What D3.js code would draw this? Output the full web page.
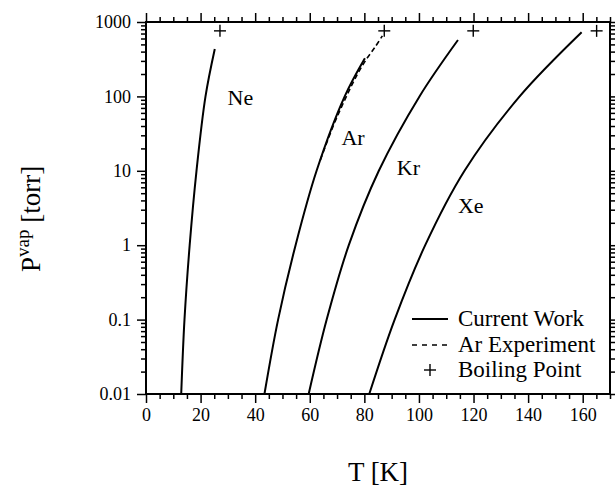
<!DOCTYPE html>
<html>
<head>
<meta charset="utf-8">
<script src="https://cdn.jsdelivr.net/npm/d3@7"></script>
<style>
  body { margin: 0; background: #fff; }
  svg { display: block; }
  text { font-family: "Liberation Serif", "DejaVu Serif", serif; fill: #000; }
</style>
</head>
<body>
<script>
// vapour pressure curves (T in K, P in torr)
var neT = [12.9, 14.1, 16.0, 18.5, 21.8, 25.2];
var neP = [0.01, 0.1, 1, 10, 100, 434];

var arT = [43.4, 48.4, 54.8, 62.5, 72.8, 80.2];
var arP = [0.01, 0.1, 1, 10, 100, 325];

var krT = [59.6, 66.2, 74.3, 85.3, 100.2, 114.3];
var krP = [0.01, 0.1, 1, 10, 100, 573];

var xeT = [81.8, 91.1, 102.3, 116.7, 136.9, 159.6];
var xeP = [0.01, 0.1, 1, 10, 100, 728];

// argon experiment (dashed)
var arExpT = [63.9, 68.6, 73.3, 77.5, 80.6, 83.9, 86.6];
var arExpP = [14, 40, 98, 200, 310, 460, 650];

// boiling points at 1 atm
var bpNames = ["Ne", "Ar", "Kr", "Xe"];
var bpT = [27.1, 87.3, 119.9, 165.1];
var bpP = [760, 760, 760, 760];

var xTicks = [0, 20, 40, 60, 80, 100, 120, 140, 160];
var yTicks = [0.01, 0.1, 1, 10, 100, 1000];
var legendLabels = ["Current Work", "Ar Experiment", "Boiling Point"];

var width = 615, height = 493;
var serif = "'Liberation Serif', 'DejaVu Serif', serif";

var svg = d3.select("body").append("svg")
    .attr("width", width)
    .attr("height", height);

var x = d3.scaleLinear().domain([0, 170]).range([146, 610]);
var y = d3.scaleLog().domain([0.01, 1000]).range([394, 22]);

// minor ticks
var xMinor = d3.range(0, 171, 5).filter(function(d) { return d % 20 != 0; });
var yMinor = [];
yTicks.slice(0, -1).forEach(function(d) {
    for (var k = 2; k <= 9; k++) yMinor.push(d * k);
});

function styleAxis(g) {
    g.attr("font-family", serif).attr("font-size", 18);
    g.select(".domain").remove();
    g.selectAll(".tick line").attr("stroke", "#000").attr("stroke-width", 1.5);
    g.selectAll(".tick text").attr("fill", "#000");
}

// bottom axis
svg.append("g")
    .attr("transform", "translate(0,394)")
    .call(d3.axisBottom(x).tickValues(xTicks).tickSize(9).tickPadding(5).tickFormat(d3.format("d")))
    .call(styleAxis);
svg.append("g")
    .attr("transform", "translate(0,394)")
    .call(d3.axisBottom(x).tickValues(xMinor).tickSize(5).tickFormat(""))
    .call(styleAxis);

// top axis
svg.append("g")
    .attr("transform", "translate(0,22)")
    .call(d3.axisTop(x).tickValues(xTicks).tickSize(9).tickFormat(""))
    .call(styleAxis);
svg.append("g")
    .attr("transform", "translate(0,22)")
    .call(d3.axisTop(x).tickValues(xMinor).tickSize(5).tickFormat(""))
    .call(styleAxis);

// left axis
svg.append("g")
    .attr("transform", "translate(146,0)")
    .call(d3.axisLeft(y).tickValues(yTicks).tickSize(9).tickPadding(6).tickFormat(function(d) { return String(d); }))
    .call(styleAxis);
svg.append("g")
    .attr("transform", "translate(146,0)")
    .call(d3.axisLeft(y).tickValues(yMinor).tickSize(5).tickFormat(""))
    .call(styleAxis);

// right axis
svg.append("g")
    .attr("transform", "translate(610,0)")
    .call(d3.axisRight(y).tickValues(yTicks).tickSize(9).tickFormat(""))
    .call(styleAxis);
svg.append("g")
    .attr("transform", "translate(610,0)")
    .call(d3.axisRight(y).tickValues(yMinor).tickSize(5).tickFormat(""))
    .call(styleAxis);

// frame
svg.append("rect")
    .attr("x", x(0))
    .attr("y", y(1000))
    .attr("width", x(170) - x(0))
    .attr("height", y(0.01) - y(1000))
    .attr("fill", "none")
    .attr("stroke", "#000")
    .attr("stroke-width", 2);

// curves
var line = d3.line()
    .x(function(d) { return x(d[0]); })
    .y(function(d) { return y(d[1]); })
    .curve(d3.curveCatmullRom.alpha(0.5));

function pairs(ts, ps) {
    return ts.map(function(t, i) { return [t, ps[i]]; });
}

var curves = [pairs(neT, neP), pairs(arT, arP), pairs(krT, krP), pairs(xeT, xeP)];

svg.selectAll(".curve")
    .data(curves)
    .enter()
    .append("path")
    .attr("class", "curve")
    .attr("d", line)
    .attr("fill", "none")
    .attr("stroke", "#000")
    .attr("stroke-width", 2);

svg.append("path")
    .datum(pairs(arExpT, arExpP))
    .attr("d", line)
    .attr("fill", "none")
    .attr("stroke", "#000")
    .attr("stroke-width", 1.6)
    .attr("stroke-dasharray", "5,3");

// boiling point markers
function plus(g, cx, cy) {
    g.append("line").attr("x1", cx - 6).attr("x2", cx + 6).attr("y1", cy).attr("y2", cy);
    g.append("line").attr("x1", cx).attr("x2", cx).attr("y1", cy - 6).attr("y2", cy + 6);
}
var marks = svg.append("g").attr("stroke", "#000").attr("stroke-width", 1.4);
bpT.forEach(function(t, i) { plus(marks, x(t), y(bpP[i])); });

// element labels
var labelT = [29.9, 71.6, 91.9, 114.3];
var labelP = [76, 22, 8.8, 2.7];
svg.selectAll(".elabel")
    .data(bpNames)
    .enter()
    .append("text")
    .attr("class", "elabel")
    .attr("x", function(d, i) { return x(labelT[i]); })
    .attr("y", function(d, i) { return y(labelP[i]); })
    .attr("font-family", serif)
    .attr("font-size", 22)
    .text(function(d) { return d; });

// legend
var legend = svg.append("g").attr("transform", "translate(412,319)");
legend.append("line")
    .attr("x1", 0).attr("x2", 36).attr("y1", 0).attr("y2", 0)
    .attr("stroke", "#000").attr("stroke-width", 2);
legend.append("line")
    .attr("x1", 0).attr("x2", 36).attr("y1", 26).attr("y2", 26)
    .attr("stroke", "#000").attr("stroke-width", 1.6)
    .attr("stroke-dasharray", "5,5");
var lp = legend.append("g").attr("stroke", "#000").attr("stroke-width", 1.4);
plus(lp, 18, 51);

legend.selectAll(".ltext")
    .data(legendLabels)
    .enter()
    .append("text")
    .attr("class", "ltext")
    .attr("x", 46)
    .attr("y", function(d, i) { return 7 + i * 25.5; })
    .attr("font-family", serif)
    .attr("font-size", 23)
    .text(function(d) { return d; });

// axis titles
svg.append("text")
    .attr("x", 378)
    .attr("y", 481)
    .attr("text-anchor", "middle")
    .attr("font-family", serif)
    .attr("font-size", 27)
    .text("T [K]");

var yt = svg.append("text")
    .attr("transform", "translate(40,272) rotate(-90)")
    .attr("text-anchor", "start")
    .attr("font-family", serif)
    .attr("font-size", 27);
yt.append("tspan").text("P");
yt.append("tspan").attr("dy", -11).attr("font-size", 19).text("vap");
yt.append("tspan").attr("dy", 11).text(" [torr]");
</script>
</body>
</html>
